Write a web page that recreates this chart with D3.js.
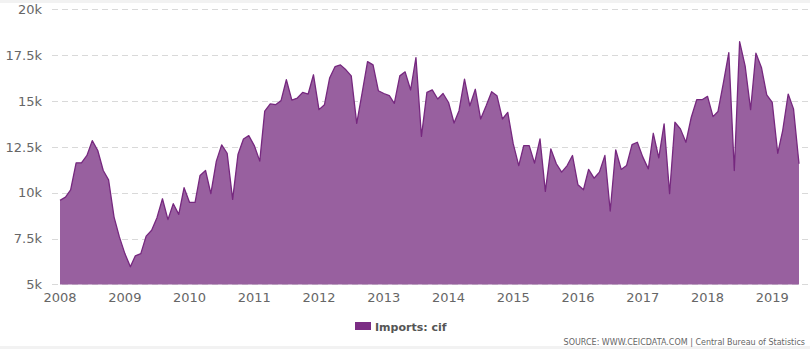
<!DOCTYPE html>
<html>
<head>
<meta charset="utf-8">
<script src="https://cdn.jsdelivr.net/npm/d3@7"></script>
<style>
  html, body { margin: 0; padding: 0; background: #fff; }
  svg { display: block; }
</style>
</head>
<body>
<svg id="chart" width="810" height="349"></svg>
<script>
// Monthly series, Jan 2008 – Jun 2019 (USD mn)
const startYear = 2008;
const importsCif = [
  9580, 9760, 10160, 11630, 11630, 12030, 12840, 12300, 11210, 10700, 8670, 7590,
  6680, 5960, 6560, 6680, 7630, 7950, 8640, 9670, 8530, 9400, 8820, 10270,
  9470, 9470, 10940, 11210, 9950, 11720, 12610, 12150, 9640, 12080, 12930, 13110,
  12570, 11720, 14450, 14840, 14800, 15020, 16160, 15050, 15160, 15470, 15380, 16430,
  14530, 14800, 16250, 16880, 16970, 16700, 16370, 13780, 15470, 17150, 16970, 15560,
  15410, 15290, 14870, 16370, 16590, 15600, 17370, 13070, 15470, 15610, 15110, 15410,
  14920, 13800, 14470, 16190, 14740, 15640, 14020, 14740, 15510, 15290, 14020, 14380,
  12660, 11480, 12570, 12570, 11610, 12930, 10070, 12390, 11580, 11120, 11480, 12030,
  10430, 10160, 11270, 10790, 11120, 12030, 9000, 12340, 11270, 11480, 12620, 12750,
  11940, 11300, 13240, 11900, 13750, 9950, 13840, 13480, 12750, 14100, 15070, 15070,
  15250, 14150, 14430, 16010, 17640, 11210, 18240, 16920, 14530, 17610, 16830, 15330,
  14920, 12150, 13390, 15380, 14570, 11580
];
const yTicks = [5000, 7500, 10000, 12500, 15000, 17500, 20000];
const yTickLabels = ["5k", "7.5k", "10k", "12.5k", "15k", "17.5k", "20k"];
const xTickYears = [2008, 2009, 2010, 2011, 2012, 2013, 2014, 2015, 2016, 2017, 2018, 2019];
const seriesName = "Imports: cif";
const sourceText = "SOURCE: WWW.CEICDATA.COM | Central Bureau of Statistics";

const data = importsCif.map((v, i) => ({ date: new Date(startYear, i, 1), value: v }));

const svg = d3.select("#chart");
const W = 810, H = 349;

// frame decorations
svg.append("rect").attr("x", 0).attr("y", 0).attr("width", W).attr("height", 3).attr("fill", "#f2f2f2");
svg.append("rect").attr("x", 0).attr("y", 346).attr("width", W).attr("height", 3).attr("fill", "#f2f2f2");

const x = d3.scaleTime()
  .domain([data[0].date, data[data.length - 1].date])
  .range([60, 799]);
const y = d3.scaleLinear().domain([5000, 20000]).range([284.4, 9.3]);

// gridlines
svg.append("g").selectAll("line").data(yTicks).join("line")
  .attr("x1", 52).attr("x2", 808)
  .attr("y1", d => Math.round(y(d)) + 0.5).attr("y2", d => Math.round(y(d)) + 0.5)
  .attr("stroke", "#d9d9d9").attr("stroke-width", 1)
  .attr("stroke-dasharray", "6,4");

// y labels
svg.append("g").selectAll("text").data(yTicks).join("text")
  .attr("x", 42).attr("y", d => y(d)).attr("dy", "0.36em")
  .attr("text-anchor", "end")
  .attr("font-family", "DejaVu Sans, Verdana, sans-serif")
  .attr("font-size", 13).attr("fill", "#666")
  .text((d, i) => yTickLabels[i]);

// area
const area = d3.area().x(d => x(d.date)).y0(y(5000)).y1(d => y(d.value));
const line = d3.line().x(d => x(d.date)).y(d => y(d.value));
svg.append("path").datum(data).attr("d", area).attr("fill", "#98609f");
svg.append("path").datum(data).attr("d", line)
  .attr("fill", "none").attr("stroke", "#76287f").attr("stroke-width", 1.3)
  .attr("stroke-linejoin", "round");

// x labels
svg.append("g").selectAll("text").data(xTickYears).join("text")
  .attr("x", d => x(new Date(d, 0, 1))).attr("y", 302)
  .attr("text-anchor", "middle")
  .attr("font-family", "DejaVu Sans, Verdana, sans-serif")
  .attr("font-size", 13).attr("fill", "#666")
  .text(d => d);

// legend
const lg = svg.append("g");
lg.append("rect").attr("x", 355).attr("y", 322).attr("width", 16).attr("height", 8).attr("fill", "#7b2d84");
lg.append("text").attr("x", 375).attr("y", 331)
  .attr("font-family", "DejaVu Sans, Verdana, sans-serif")
  .attr("font-size", 11).attr("font-weight", "bold").attr("fill", "#555")
  .text(seriesName);

// source
svg.append("text").attr("x", 805).attr("y", 345)
  .attr("text-anchor", "end")
  .attr("font-family", "DejaVu Sans, Verdana, sans-serif")
  .attr("font-size", 8).attr("fill", "#666")
  .text(sourceText);
</script>
</body>
</html>
